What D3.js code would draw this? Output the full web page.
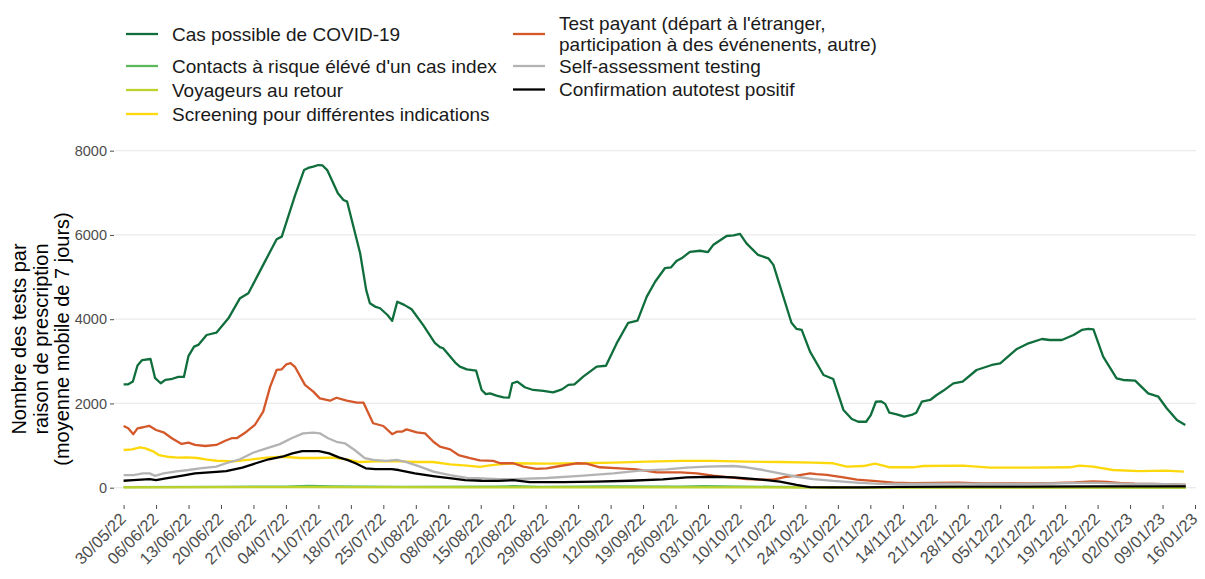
<!DOCTYPE html>
<html>
<head>
<meta charset="utf-8">
<script src="https://cdn.jsdelivr.net/npm/d3@7"></script>
<style>
  body { margin: 0; background: #fff; }
  text { font-family: "Liberation Sans", Arial, sans-serif; }
</style>
</head>
<body>
<svg id="vis" width="1205" height="579"></svg>
<script>
// tests per prescription reason, 7-day rolling mean
// each point: [days since 30/05/2022, value]

const casPossible = [[0,2455],[1,2455],[2,2520],[3,2900],[4,3030],[5.8,3055],[6.8,2600],[8,2480],[9,2560],[10.2,2575],[11.8,2630],[13,2630],[14,3130],[15.2,3350],[16.1,3390],[17.9,3625],[20,3680],[22.6,4020],[25.1,4500],[26.9,4615],[30.1,5290],[33,5900],[34.1,5960],[37,6950],[38.9,7540],[39.8,7590],[40.9,7620],[42,7660],[42.9,7650],[43.9,7540],[46.2,6990],[47.4,6830],[48.2,6790],[51,5565],[52.3,4695],[53.1,4380],[54.2,4300],[55.3,4260],[56.9,4100],[57.9,3960],[59,4415],[60.5,4340],[62.1,4235],[64.6,3860],[67.1,3440],[68.2,3335],[68.9,3310],[71.5,2970],[72.5,2875],[74,2810],[76,2780],[77.2,2320],[78.1,2220],[79,2240],[80.4,2185],[81.9,2145],[83.1,2140],[83.8,2480],[84.9,2520],[86.5,2385],[88.3,2320],[90.5,2300],[92.6,2265],[94.5,2335],[95.9,2440],[97.2,2455],[99.1,2635],[102,2875],[104,2895],[106.3,3425],[108.8,3915],[110.8,3965],[112.8,4535],[114.6,4890],[116.7,5210],[118,5230],[119.2,5380],[120.5,5460],[122.1,5600],[124.3,5625],[126,5595],[127.1,5760],[130,5975],[131.5,5990],[132.9,6025],[134.3,5800],[136.8,5525],[139,5445],[140.1,5290],[144,3915],[145.1,3770],[146.2,3745],[148,3230],[150.9,2675],[153,2580],[155.2,1845],[157,1630],[158.4,1565],[160.1,1565],[161.1,1725],[162.2,2040],[163.3,2050],[164.2,1990],[165.1,1780],[166.7,1742],[168.3,1686],[169.9,1726],[170.9,1781],[172.1,2042],[173.9,2082],[175.3,2200],[176.7,2300],[178.9,2478],[180.9,2517],[183.9,2794],[187.2,2913],[189,2953],[192.6,3293],[195.1,3427],[198,3530],[199.7,3506],[202.3,3506],[204.8,3625],[206.6,3744],[208,3768],[209.1,3760],[211.2,3110],[214.1,2597],[215.5,2557],[218.1,2541],[220.9,2240],[223.1,2160],[224.9,1885],[227.1,1607],[228.9,1488]];

const contactsRisque = [[0,15],[20,20],[35,25],[40,40],[45,30],[60,20],[80,25],[84,35],[90,20],[105,30],[120,25],[125,35],[140,20],[155,10],[229,5]];

const voyageurs = [[0,10],[40,15],[80,10],[150,5],[229,3]];

const screening = [[0,895],[1.8,910],[3.6,960],[4.7,935],[6.5,855],[7.6,775],[9.4,735],[11.6,715],[13.7,720],[15.9,705],[18,665],[20.1,640],[23.7,625],[27.3,665],[30.8,715],[34.4,735],[38,705],[41.6,705],[45.2,715],[48,675],[50.9,610],[54.5,625],[59.5,625],[63.1,610],[66.7,610],[70.4,555],[74,525],[76.8,495],[79,530],[81.5,560],[84,580],[91.2,570],[98.4,580],[105.6,595],[112.8,620],[120,635],[127.1,635],[134.3,620],[141.5,610],[148.7,595],[153,580],[155.9,500],[159.5,515],[162,570],[163.8,525],[165.2,485],[170.2,485],[172.4,515],[181,525],[186.8,475],[195.4,475],[204,485],[206.1,525],[209,500],[213.3,420],[218.9,395],[224.7,405],[228.6,380]];

const testPayant = [[0,1465],[1,1410],[2.1,1270],[3,1410],[4.2,1435],[5.5,1470],[7,1370],[8.6,1315],[10.4,1175],[12.5,1040],[14,1070],[15.4,1015],[17.6,990],[20,1015],[21.9,1115],[23.3,1175],[24.4,1175],[26.5,1330],[28.3,1490],[30.1,1805],[31.6,2400],[33,2795],[34.1,2810],[35.1,2930],[36,2955],[37,2860],[39.1,2440],[40.9,2280],[42.3,2120],[44.5,2065],[45.9,2135],[48.1,2065],[50.3,2020],[51.7,2020],[53.8,1530],[56,1465],[57.9,1270],[58.9,1330],[60,1330],[61,1385],[63.2,1315],[65,1290],[66.8,1090],[68.2,975],[70.4,910],[72.2,775],[74.7,700],[76.8,650],[79.7,635],[81.2,580],[84,580],[86.2,500],[89,445],[91.2,460],[94.1,515],[97.7,580],[99.8,570],[102.7,485],[107,460],[110.6,435],[114.9,365],[120,365],[123.6,340],[127.1,285],[130.7,245],[134.3,205],[137.2,190],[140.1,190],[143,260],[145.1,285],[148,340],[149.4,320],[151.6,305],[155.2,245],[158.1,190],[161.6,160],[166,120],[170,110],[175,115],[180,120],[185,105],[190,100],[195,105],[200,110],[205,125],[209,150],[212,140],[215,110],[218,95],[222,90],[226,80],[229,65]];

const selfAssessment = [[0,300],[2.1,300],[4.2,340],[5.6,340],[6.8,280],[8.6,340],[11.4,390],[14,420],[16.4,460],[20,500],[22.1,580],[25.1,675],[27.9,830],[30.8,935],[33.7,1035],[36.2,1175],[38.7,1290],[40.9,1305],[42.3,1290],[44.1,1175],[45.9,1090],[47.7,1055],[49.8,895],[52,700],[53.8,660],[56.6,635],[58.9,660],[61,605],[63.9,500],[66.8,380],[70.4,300],[74,235],[77.5,220],[80.8,205],[84,205],[91.2,230],[98.4,280],[105.6,340],[111.3,405],[117.1,435],[121.4,475],[125.7,500],[131.5,515],[134.3,485],[137.9,420],[141.5,340],[145.1,260],[148.7,205],[153,160],[158,120],[163,90],[170,90],[180,95],[190,90],[200,100],[206,115],[210,115],[215,95],[220,90],[225,85],[229,75]];

const confirmation = [[0,165],[2.1,180],[5.6,205],[7,180],[9.1,220],[12.7,285],[15.4,340],[20,375],[22.1,395],[25.6,475],[28.5,580],[31.3,675],[34.2,735],[36.4,815],[38.5,870],[42.1,870],[44.3,815],[46.4,720],[48.2,660],[50,580],[52.2,460],[54.3,440],[57.8,440],[59.3,420],[62.8,340],[67.1,270],[70.7,220],[73.6,180],[77.2,165],[80.8,160],[84,180],[87.6,130],[94.8,130],[101.9,145],[109.1,165],[116.3,200],[121.4,245],[127.1,260],[131.5,245],[134.3,220],[138.6,180],[141.5,145],[145.1,65],[148,15],[152.3,10],[159.5,10],[167,20],[180,25],[195,25],[210,30],[220,30],[229,30]];

const seriesNames = [
    "Cas possible de COVID-19",
    "Contacts à risque élévé d'un cas index",
    "Voyageurs au retour",
    "Screening pour différentes indications",
    "Test payant (départ à l'étranger,\nparticipation à des événenents, autre)",
    "Self-assessment testing",
    "Confirmation autotest positif"
];
const seriesValues = [casPossible, contactsRisque, voyageurs, screening, testPayant, selfAssessment, confirmation];
const seriesColors = ["#0f6e3b", "#5cb85c", "#bfd22b", "#fdd80c", "#d4582a", "#b3b3b3", "#000000"];

const yTicks = [0, 2000, 4000, 6000, 8000];
const startDate = new Date(2022, 4, 30);
const endDate = new Date(2023, 0, 16);
const yTitle = ["Nombre des tests par", "raison de prescription", "(moyenne mobile de 7 jours)"];

const svg = d3.select('#vis');
const panel = {left: 114, right: 1196, top: 148, bottom: 504};

var x = d3.scaleTime()
    .domain([startDate, endDate])
    .range([123.6, 1195]);

var y = d3.scaleLinear()
    .domain([0, 8000])
    .range([487.7, 150.7]);

function dayToDate(d) {
    return new Date(startDate.getTime() + d * 86400000);
}

// grid
svg.append("g")
    .selectAll("line")
    .data(yTicks)
    .enter().append("line")
    .attr("x1", panel.left)
    .attr("x2", panel.right)
    .attr("y1", function (d) { return y(d); })
    .attr("y2", function (d) { return y(d); })
    .attr("stroke", "#ebebeb")
    .attr("stroke-width", 1.2);

// y axis
var yAxis = svg.append("g")
    .attr("transform", "translate(" + panel.left + ",0)")
    .call(d3.axisLeft(y).tickValues(yTicks).tickSize(4).tickPadding(3).tickFormat(d3.format("d")));
yAxis.select(".domain").remove();
yAxis.selectAll(".tick line").attr("stroke", "#4d4d4d");
yAxis.selectAll(".tick text")
    .attr("fill", "#4d4d4d")
    .style("font-size", "14.5px")
    .style("font-family", "'Liberation Sans', Arial, sans-serif");

// x axis, weekly ticks
var weeks = d3.timeMonday.range(startDate, d3.timeDay.offset(endDate, 1));
var xAxis = svg.append("g")
    .attr("transform", "translate(0," + (panel.bottom + 1) + ")")
    .call(d3.axisBottom(x).tickValues(weeks).tickSize(4).tickFormat(d3.timeFormat("%d/%m/%y")));
xAxis.select(".domain").remove();
xAxis.selectAll(".tick line").attr("stroke", "#4d4d4d");
xAxis.selectAll(".tick text")
    .attr("fill", "#4d4d4d")
    .style("font-size", "16.5px")
    .style("font-family", "'Liberation Sans', Arial, sans-serif")
    .attr("text-anchor", "end")
    .attr("dy", null)
    .attr("y", 0)
    .attr("transform", "translate(3,15) rotate(-45)");

// y title
svg.append("g")
    .selectAll("text")
    .data(yTitle)
    .enter().append("text")
    .attr("transform", function (d, i) {
        return "translate(" + (19 + i * 21.5) + ",339) rotate(-90)";
    })
    .attr("dy", "0.35em")
    .attr("text-anchor", "middle")
    .style("font-size", "20px")
    .attr("fill", "#000")
    .text(function (d) { return d; });

// lines
var line = d3.line()
    .x(function (d) { return x(dayToDate(d[0])); })
    .y(function (d) { return y(d[1]); })
    .curve(d3.curveLinear);

svg.append("g")
    .selectAll("path")
    .data(seriesValues)
    .enter().append("path")
    .attr("d", line)
    .attr("fill", "none")
    .attr("stroke", function (d, i) { return seriesColors[i]; })
    .attr("stroke-width", 2.3)
    .attr("stroke-linejoin", "round");

// legend, two columns
var legendSlots = [
    {kx: 126, ty: 34}, {kx: 126, ty: 66}, {kx: 126, ty: 90}, {kx: 126, ty: 114},
    {kx: 513, ty: 34}, {kx: 513, ty: 66}, {kx: 513, ty: 89.5}
];

var legend = svg.append("g")
    .selectAll("g")
    .data(seriesNames)
    .enter().append("g")
    .attr("transform", function (d, i) {
        return "translate(" + legendSlots[i].kx + "," + legendSlots[i].ty + ")";
    });

legend.append("line")
    .attr("x1", 0)
    .attr("x2", 32)
    .attr("stroke", function (d, i) { return seriesColors[i]; })
    .attr("stroke-width", 2.3);

legend.each(function (d) {
    var lines = d.split("\n");
    var t = d3.select(this).append("text")
        .attr("x", 46)
        .style("font-size", "19px")
        .attr("fill", "#1a1a1a");
    lines.forEach(function (s, j) {
        t.append("tspan")
            .attr("x", 46)
            .attr("y", (j - (lines.length - 1) / 2) * 21)
            .attr("dy", "0.35em")
            .text(s);
    });
});
</script>
</body>
</html>
